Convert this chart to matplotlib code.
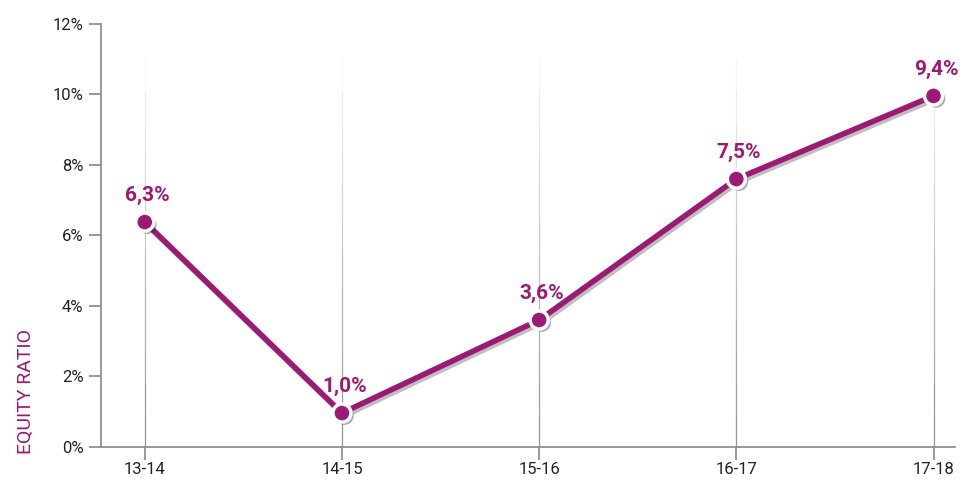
import matplotlib
matplotlib.use("Agg")
import matplotlib.pyplot as plt
import matplotlib.patheffects as pe
import numpy as np

plt.rcParams['font.family'] = ['Roboto', 'DejaVu Sans']

# data
seasons = ["13-14", "14-15", "15-16", "16-17", "17-18"]
equity = [6.38, 0.96, 3.6, 7.6, 9.96]
labels = ["6,3%", "1,0%", "3,6%", "7,5%", "9,4%"]
yticks = [0, 2, 4, 6, 8, 10, 12]

purple = "#9b1a73"
x = np.arange(len(seasons))

fig = plt.figure(figsize=(9.6, 4.8), dpi=100)
ax = fig.add_axes([0.105, 0.069, 0.89, 0.881])

# faded vertical guides
for xi in x:
    segs = 12
    edges = np.linspace(0, 11, segs + 1)
    for k in range(segs):
        a = 1.0 - k / segs
        ax.plot([xi, xi], [edges[k], edges[k + 1]], color="#888888",
                lw=0.9, alpha=min(1, a * 0.9), zorder=1, solid_capstyle="butt")

shadow = [pe.SimpleLineShadow(offset=(1.5, -2), shadow_color="black", alpha=0.25), pe.Normal()]
ax.plot(x, equity, color=purple, lw=4, zorder=3, path_effects=shadow)
ax.plot(x, equity, 'o', color=purple, ms=13, mec="white", mew=2.5, zorder=4,
        path_effects=[pe.SimplePatchShadow(offset=(2, -2), alpha=0.35), pe.Normal()])

for xi, yi, t in zip(x, equity, labels):
    ax.annotate(t, (xi, yi), xytext=(2, 12), textcoords="offset points",
                ha="center", va="bottom", color=purple, fontsize=15, fontweight="bold")

ax.set_xlim(-0.223, 4.11)
ax.set_ylim(0, 12)
ax.set_xticks(x)
ax.set_xticklabels(seasons)
ax.set_yticks(yticks)
ax.set_yticklabels([f"{v}%" for v in yticks])
ax.tick_params(colors="#888888", labelcolor="#222222", labelsize=12, length=9, width=1.2)
ax.tick_params(axis="x", pad=2)

for s in ["top", "right"]:
    ax.spines[s].set_visible(False)
ax.spines["left"].set_color("#888888")
ax.spines["bottom"].set_color("#888888")
ax.spines["left"].set_linewidth(1.2)
ax.spines["bottom"].set_linewidth(1.2)

ax.set_ylabel("EQUITY RATIO", color=purple, fontsize=14)
ax.yaxis.set_label_coords(-0.077, 0.13)

fig.savefig("out.png", dpi=100)
